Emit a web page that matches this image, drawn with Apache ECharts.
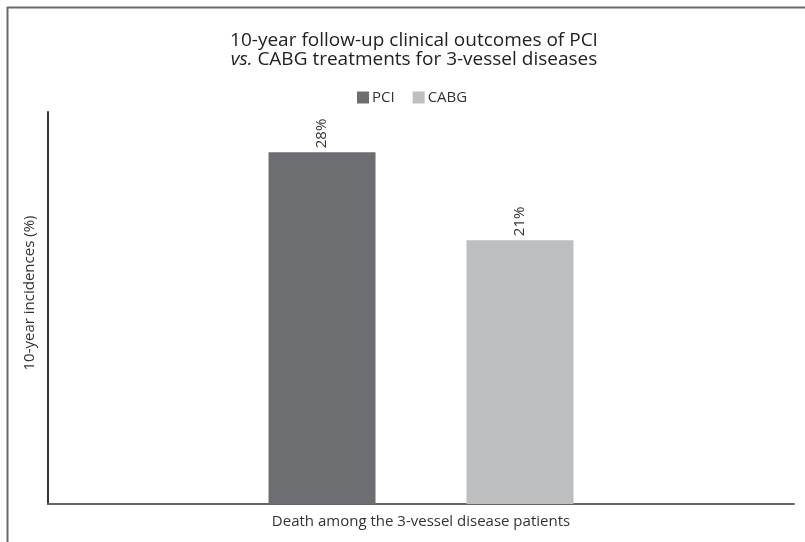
<!DOCTYPE html>
<html>
<head>
<meta charset="utf-8">
<script src="https://cdn.jsdelivr.net/npm/echarts@6/dist/echarts.min.js"></script>
<style>
  html, body { margin: 0; padding: 0; background: #fff; }
  #chart { width: 805px; height: 542px; }
</style>
</head>
<body>
<div id="chart"></div>
<script>
// Outcome categories and incidences (%)
const categories = ['Death among the 3-vessel disease patients'];
const seriesNames = ['PCI', 'CABG'];
const pciValues = [28];
const cabgValues = [21];
const seriesColors = ['#6d6e71', '#bcbec0'];

const FONT = '"Open Sans", "Noto Sans", sans-serif';

const chart = echarts.init(document.getElementById('chart'), null, { renderer: 'canvas' });

const barSeries = [pciValues, cabgValues].map((values, i) => ({
  name: seriesNames[i],
  type: 'bar',
  data: values,
  barWidth: 107,
  barGap: '85%',
  itemStyle: { color: seriesColors[i] },
  label: {
    show: true,
    position: 'top',
    rotate: 90,
    align: 'left',
    verticalAlign: 'middle',
    distance: 4,
    formatter: '{c}%',
    fontFamily: FONT,
    fontSize: 15,
    color: '#333'
  }
}));

chart.setOption({
  animation: false,
  backgroundColor: '#fff',
  textStyle: { fontFamily: FONT },
  title: {
    text: '{a|10-year follow-up clinical outcomes of PCI}\n{i|vs.}{a| CABG treatments for 3-vessel diseases}',
    left: 409,
    textAlign: 'center',
    top: 26,
    textStyle: {
      rich: {
        a: { fontFamily: FONT, fontSize: 19, fontWeight: 'normal', color: '#222', lineHeight: 19 },
        i: { fontFamily: FONT, fontSize: 19, fontWeight: 'normal', color: '#222', lineHeight: 19, fontStyle: 'italic' }
      }
    }
  },
  legend: {
    data: seriesNames,
    top: 90,
    left: 357,
    itemWidth: 12,
    itemHeight: 12,
    itemGap: 18,
    icon: 'rect',
    padding: 0,
    textStyle: { fontFamily: FONT, fontSize: 15, color: '#333', padding: [0, 0, 0, -2] }
  },
  grid: { left: 48, right: 11, top: 112, bottom: 38 },
  xAxis: {
    type: 'category',
    data: categories,
    axisLine: { lineStyle: { color: '#666', width: 2 } },
    axisTick: { show: false },
    axisLabel: { fontFamily: FONT, fontSize: 15, color: '#333', margin: 10 }
  },
  yAxis: {
    type: 'value',
    min: 0,
    max: 31.2,
    name: '10-year incidences (%)',
    nameLocation: 'middle',
    nameGap: 11,
    nameTextStyle: { fontFamily: FONT, fontSize: 15, color: '#333', padding: [0, 0, 0, 30] },
    axisLine: { show: true, lineStyle: { color: '#333', width: 2 } },
    axisTick: { show: false },
    axisLabel: { show: false },
    splitLine: { show: false }
  },
  graphic: [
    { type: 'line', shape: { x1: 7, y1: 7.5, x2: 805, y2: 7.5 }, style: { stroke: '#6a6a6a', lineWidth: 2 } },
    { type: 'line', shape: { x1: 7.5, y1: 7, x2: 7.5, y2: 542 }, style: { stroke: '#6a6a6a', lineWidth: 2 } }
  ],
  series: barSeries
});
</script>
</body>
</html>
